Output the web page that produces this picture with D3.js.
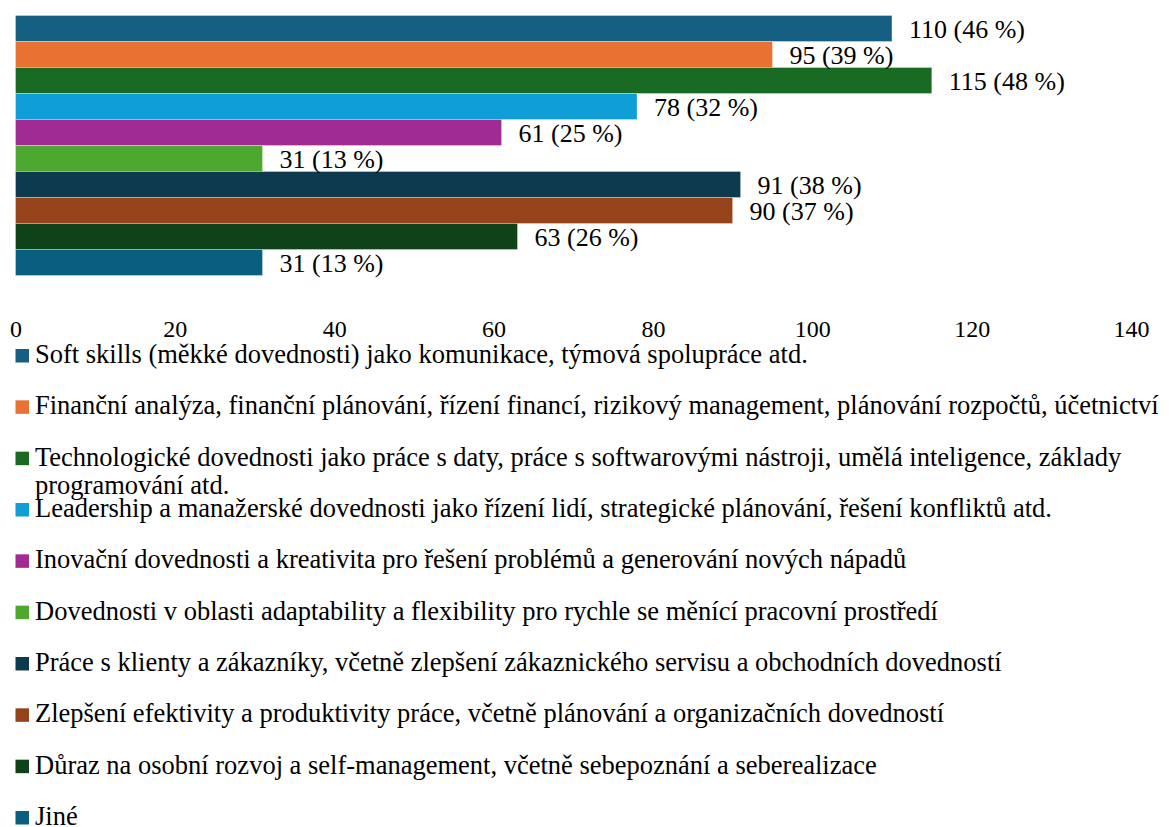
<!DOCTYPE html>
<html>
<head>
<meta charset="utf-8">
<script src="https://cdn.jsdelivr.net/npm/d3@7"></script>
<style>
	body { margin: 0; background: #fff; }
	svg text { font-family: 'Liberation Serif', 'Times New Roman', serif; fill: #000; }
</style>
</head>
<body>
<svg></svg>
<script>
const categories = [
	'Soft skills (měkké dovednosti) jako komunikace, týmová spolupráce atd.',
	'Finanční analýza, finanční plánování, řízení financí, rizikový management, plánování rozpočtů, účetnictví',
	'Technologické dovednosti jako práce s daty, práce s softwarovými nástroji, umělá inteligence, základy\nprogramování atd.',
	'Leadership a manažerské dovednosti jako řízení lidí, strategické plánování, řešení konfliktů atd.',
	'Inovační dovednosti a kreativita pro řešení problémů a generování nových nápadů',
	'Dovednosti v oblasti adaptability a flexibility pro rychle se měnící pracovní prostředí',
	'Práce s klienty a zákazníky, včetně zlepšení zákaznického servisu a obchodních dovedností',
	'Zlepšení efektivity a produktivity práce, včetně plánování a organizačních dovedností',
	'Důraz na osobní rozvoj a self-management, včetně sebepoznání a seberealizace',
	'Jiné'
];
const values = [110, 95, 115, 78, 61, 31, 91, 90, 63, 31];
const percents = [46, 39, 48, 32, 25, 13, 38, 37, 26, 13];
const xTicks = [0, 20, 40, 60, 80, 100, 120, 140];
const colors = ['#156082', '#e97132', '#196b24', '#0f9ed5', '#a02b93', '#4ea72e',
	'#0e3a50', '#96421a', '#10421a', '#0a5f80'];

const width = 1169;
const height = 827;

const svg = d3.select('svg')
	.attr('width', width)
	.attr('height', height);

const xScale = d3.scaleLinear()
	.domain([0, 140])
	.range([15.5, 1131]);

const yScale = d3.scaleBand()
	.domain(d3.range(categories.length))
	.range([15.5, 275.5])
	.padding(0);

// bars
svg.append('g').selectAll('rect')
	.data(values)
	.join('rect')
	.attr('x', xScale(0))
	.attr('y', (d, i) => yScale(i))
	.attr('width', d => xScale(d) - xScale(0))
	.attr('height', yScale.bandwidth())
	.attr('fill', (d, i) => colors[i])
	.attr('stroke', 'rgba(255,255,255,0.5)')
	.attr('stroke-width', 0.6);

// value labels
svg.append('g').selectAll('text')
	.data(values)
	.join('text')
	.attr('x', d => xScale(d) + 17)
	.attr('y', (d, i) => yScale(i) + yScale.bandwidth() / 2 + 9.5)
	.style('font-size', '26px')
	.text((d, i) => `${d} (${percents[i]} %)`);

// x axis
const xAxis = d3.axisBottom(xScale)
	.tickValues(xTicks)
	.tickSize(0)
	.tickPadding(0);

const xAxisGroup = svg.append('g')
	.attr('transform', 'translate(0, 337)')
	.call(xAxis);

xAxisGroup.select('.domain').remove();
xAxisGroup.selectAll('text')
	.attr('y', 0)
	.attr('dy', 0)
	.attr('fill', '#000')
	.style('font-size', '24px')
	.style('font-family', "'Liberation Serif', 'Times New Roman', serif");

// legend
const legendY = d3.scaleLinear()
	.domain([0, categories.length - 1])
	.range([363, 825]);

const legend = svg.append('g').selectAll('g')
	.data(categories)
	.join('g')
	.attr('transform', (d, i) => `translate(0, ${legendY(i)})`);

legend.append('rect')
	.attr('x', 15.5)
	.attr('y', -14)
	.attr('width', 13.5)
	.attr('height', 13.5)
	.attr('fill', (d, i) => colors[i]);

legend.append('text')
	.style('font-size', '26.5px')
	.selectAll('tspan')
	.data(d => d.split('\n'))
	.join('tspan')
	.attr('x', 35)
	.attr('y', (d, i) => i * 28)
	.text(d => d);
</script>
</body>
</html>
